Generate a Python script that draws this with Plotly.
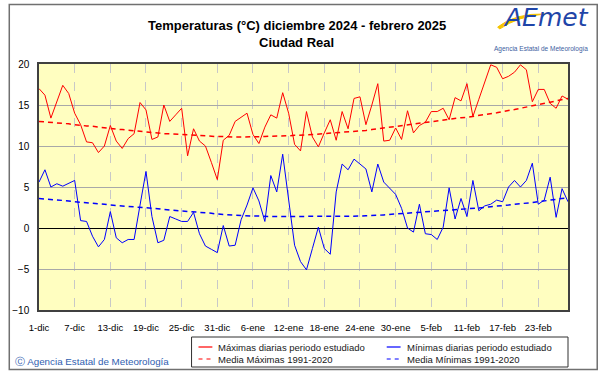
import plotly.graph_objects as go

# ---------------- data ----------------
tick_labels = ["1-dic", "7-dic", "13-dic", "19-dic", "25-dic", "31-dic", "6-ene", "12-ene",
               "18-ene", "24-ene", "30-ene", "5-feb", "11-feb", "17-feb", "23-feb"]
tick_days = [0, 6, 12, 18, 24, 30, 36, 42, 48, 54, 60, 66, 72, 78, 84]
days = list(range(90))  # 1-dic-2024 .. 28-feb-2025

max_diarias = [17.0, 16.2, 13.4, 15.4, 17.4, 16.4, 14.0, 12.6, 10.5, 10.4,
               9.2, 10.0, 12.5, 10.6, 9.7, 10.9, 11.5, 15.3, 14.4, 10.8,
               11.1, 15.0, 13.0, 13.8, 14.6, 8.8, 12.1, 10.6, 10.0, 8.0,
               5.9, 10.7, 11.3, 13.0, 13.5, 14.0, 11.4, 10.3, 12.3, 13.8,
               13.4, 16.5, 14.0, 10.2, 9.4, 14.2, 11.1, 9.9, 11.6, 13.2,
               10.7, 14.2, 12.1, 15.8, 16.0, 12.6, 15.0, 17.6, 10.6, 10.7,
               12.2, 10.8, 14.3, 11.6, 12.5, 12.9, 14.2, 14.2, 14.6, 13.2,
               15.9, 15.5, 17.6, 13.6, 15.7, 17.8, 19.9, 19.6, 18.2, 18.5,
               19.0, 19.9, 19.3, 15.4, 16.9, 16.9, 15.2, 14.6, 16.1, 15.7]

min_diarias = [5.6, 7.1, 5.0, 5.4, 5.1, 5.5, 5.8, 0.9, 0.8, -1.0,
               -2.3, -1.4, 2.0, -1.2, -1.8, -1.4, -1.4, 2.8, 6.9, 1.4,
               -1.8, -1.5, 1.4, 1.1, 0.8, 0.8, 1.9, -0.7, -2.2, -2.6,
               -3.0, 0.3, -2.2, -2.1, 1.0, 2.8, 4.9, 3.3, 0.8, 6.4,
               4.4, 9.0, 3.6, -2.1, -4.1, -5.1, -2.5, 0.1, -2.5, -3.2,
               4.4, 7.8, 7.1, 8.4, 7.8, 7.2, 4.4, 7.8, 5.6, 4.8,
               4.1, 2.4, 0.0, -0.5, 2.9, -0.7, -0.8, -1.4, 0.1, 4.9,
               1.1, 3.6, 1.4, 5.8, 2.1, 2.7, 2.9, 3.4, 3.2, 5.0,
               5.8, 5.0, 5.8, 7.9, 2.9, 3.4, 6.2, 1.3, 4.8, 3.2]

media_max = [13.0, 12.95, 12.9, 12.8, 12.75, 12.7,
             12.6, 12.5, 12.45, 12.4, 12.3, 12.2,
             12.1, 12.05, 12.0, 11.9, 11.85, 11.8,
             11.7, 11.65, 11.6, 11.5, 11.5, 11.45,
             11.4, 11.35, 11.3, 11.3, 11.25, 11.2,
             11.15, 11.15, 11.1, 11.1, 11.1, 11.1,
             11.1, 11.1, 11.15, 11.2, 11.2, 11.25,
             11.25, 11.3, 11.3, 11.35, 11.4, 11.45,
             11.5, 11.55, 11.6, 11.65, 11.7, 11.8,
             11.85, 11.9, 12.0, 12.1, 12.2, 12.25,
             12.35, 12.45, 12.55, 12.65, 12.8, 12.9,
             13.0, 13.05, 13.15, 13.25, 13.35, 13.45,
             13.5, 13.6, 13.7, 13.8, 13.95, 14.05,
             14.2, 14.3, 14.45, 14.6, 14.75, 14.9,
             15.05, 15.2, 15.35, 15.5, 15.65, 15.8]

media_min = [3.6, 3.55, 3.5, 3.45, 3.4, 3.3,
             3.2, 3.15, 3.1, 3.0, 2.95, 2.9,
             2.8, 2.75, 2.7, 2.65, 2.6, 2.55,
             2.5, 2.4, 2.35, 2.25, 2.2, 2.15,
             2.1, 2.05, 2.0, 1.9, 1.85, 1.8,
             1.7, 1.65, 1.6, 1.55, 1.5, 1.5,
             1.45, 1.45, 1.4, 1.4, 1.4, 1.4,
             1.4, 1.4, 1.4, 1.4, 1.4, 1.4,
             1.4, 1.4, 1.4, 1.4, 1.4, 1.45,
             1.45, 1.5, 1.5, 1.55, 1.6, 1.65,
             1.7, 1.75, 1.8, 1.85, 1.9, 1.95,
             2.0, 2.05, 2.1, 2.15, 2.2, 2.25,
             2.3, 2.35, 2.45, 2.5, 2.6, 2.65,
             2.7, 2.8, 2.9, 2.95, 3.05, 3.1,
             3.2, 3.3, 3.4, 3.5, 3.6, 3.7]

y_ticks = [-10, -5, 0, 5, 10, 15, 20]

# ---------------- layout helpers ----------------
W, H = 601, 374
L, R, T, B = 34, 568, 64, 310   # plot area in pixels
FONT = "Liberation Sans, Arial, sans-serif"


def px(x):
    return (x - L) / (R - L)


def py(y):
    return (B - y) / (B - T)


fig = go.Figure()
fig.add_trace(go.Scatter(x=days, y=max_diarias, mode="lines",
                         line=dict(color="#FF0000", width=1), showlegend=False))
fig.add_trace(go.Scatter(x=days, y=min_diarias, mode="lines",
                         line=dict(color="#0000FF", width=1), showlegend=False))
fig.add_trace(go.Scatter(x=days, y=media_max, mode="lines",
                         line=dict(color="#FF0000", width=1.5, dash="5px,4px"), showlegend=False))
fig.add_trace(go.Scatter(x=days, y=media_min, mode="lines",
                         line=dict(color="#0000FF", width=1.5, dash="5px,4px"), showlegend=False))

shapes = []
annotations = []

# outer frame
shapes.append(dict(type="rect", xref="paper", yref="paper",
                   x0=px(4), x1=px(597.5), y0=py(369.5), y1=py(4.5),
                   line=dict(color="#707070", width=1.5), layer="below"))

# legend box
lx0, lx1, ly0, ly1 = 188, 568, 337, 367
shapes.append(dict(type="rect", xref="paper", yref="paper",
                   x0=px(lx0), x1=px(lx1), y0=py(ly1), y1=py(ly0),
                   line=dict(color="#303030", width=1), fillcolor="white"))
legend_items = [
    ("Máximas diarias periodo estudiado", "#FF0000", "solid", 195, 347),
    ("Media Máximas 1991-2020", "#FF0000", "dash", 195, 359),
    ("Mínimas diarias periodo estudiado", "#0000FF", "solid", 385, 347),
    ("Media Mínimas 1991-2020", "#0000FF", "dash", 385, 359),
]
for text, col, dash, x0, yy in legend_items:
    shapes.append(dict(type="line", xref="paper", yref="paper",
                       x0=px(x0), x1=px(x0 + 14), y0=py(yy), y1=py(yy),
                       line=dict(color=col, width=1.2, dash="4px,4px" if dash == "dash" else "solid")))
    annotations.append(dict(text=text, xref="paper", yref="paper",
                            x=px(x0 + 18), y=py(yy), xanchor="left", yanchor="middle",
                            showarrow=False, font=dict(family=FONT, size=9.5, color="#202020")))

# title
annotations.append(dict(text="<b>Temperaturas (°C) diciembre 2024 - febrero 2025</b>",
                        xref="paper", yref="paper", x=px(294), y=py(26),
                        xanchor="center", yanchor="middle", showarrow=False,
                        font=dict(family=FONT, size=13, color="black")))
annotations.append(dict(text="<b>Ciudad Real</b>",
                        xref="paper", yref="paper", x=px(294), y=py(43),
                        xanchor="center", yanchor="middle", showarrow=False,
                        font=dict(family=FONT, size=13, color="black")))

# copyright
annotations.append(dict(text="Ⓒ Agencia Estatal de Meteorología",
                        xref="paper", yref="paper", x=px(8), y=py(361),
                        xanchor="left", yanchor="middle", showarrow=False,
                        font=dict(family=FONT, size=9.8, color="#3060B0")))

# logo
shapes.append(dict(type="path", xref="paper", yref="paper",
                   path=f"M {px(497)},{py(27)} Q {px(515)},{py(13)} {px(545)},{py(14)} "
                        f"Q {px(518)},{py(16)} {px(499)},{py(29)} Z",
                   fillcolor="#F5C400", line=dict(color="#F5C400", width=1)))
annotations.append(dict(text="<i>AEmet</i>", xref="paper", yref="paper",
                        x=px(546), y=py(18), xanchor="center", yanchor="middle",
                        showarrow=False,
                        font=dict(family="DejaVu Sans, sans-serif", size=25, color="#1F45A8")))
annotations.append(dict(text="Agencia Estatal de Meteorología", xref="paper", yref="paper",
                        x=px(541), y=py(49), xanchor="center", yanchor="middle",
                        showarrow=False,
                        font=dict(family=FONT, size=6.5, color="#4060A0")))

fig.update_layout(
    width=W, height=H,
    margin=dict(l=L, r=W - R, t=T, b=H - B, pad=0),
    paper_bgcolor="white",
    plot_bgcolor="#FFFEC0",
    shapes=shapes,
    annotations=annotations,
    showlegend=False,
    font=dict(family=FONT, size=10, color="black"),
)
fig.update_xaxes(range=[0, 89], tickvals=tick_days, ticktext=tick_labels,
                 showgrid=True, gridcolor="#C8C8C8", griddash="dash", gridwidth=1,
                 showline=True, mirror=True, linecolor="#404040", linewidth=1.5,
                 ticks="", ticklabelstandoff=8,
                 tickfont=dict(family=FONT, size=9.5, color="black"),
                 zeroline=False, fixedrange=True)
fig.update_yaxes(range=[-10, 20], tickvals=y_ticks,
                 showgrid=True, gridcolor="#A8A8A8", gridwidth=1,
                 zeroline=True, zerolinecolor="black", zerolinewidth=1,
                 showline=True, mirror=True, linecolor="#404040", linewidth=1.5,
                 ticks="", ticklabelstandoff=6,
                 tickfont=dict(family=FONT, size=10, color="black"), fixedrange=True)

fig.write_html("out.html", config={"displayModeBar": False},
               post_script="document.body.style.margin='0';document.body.style.overflow='hidden';")
